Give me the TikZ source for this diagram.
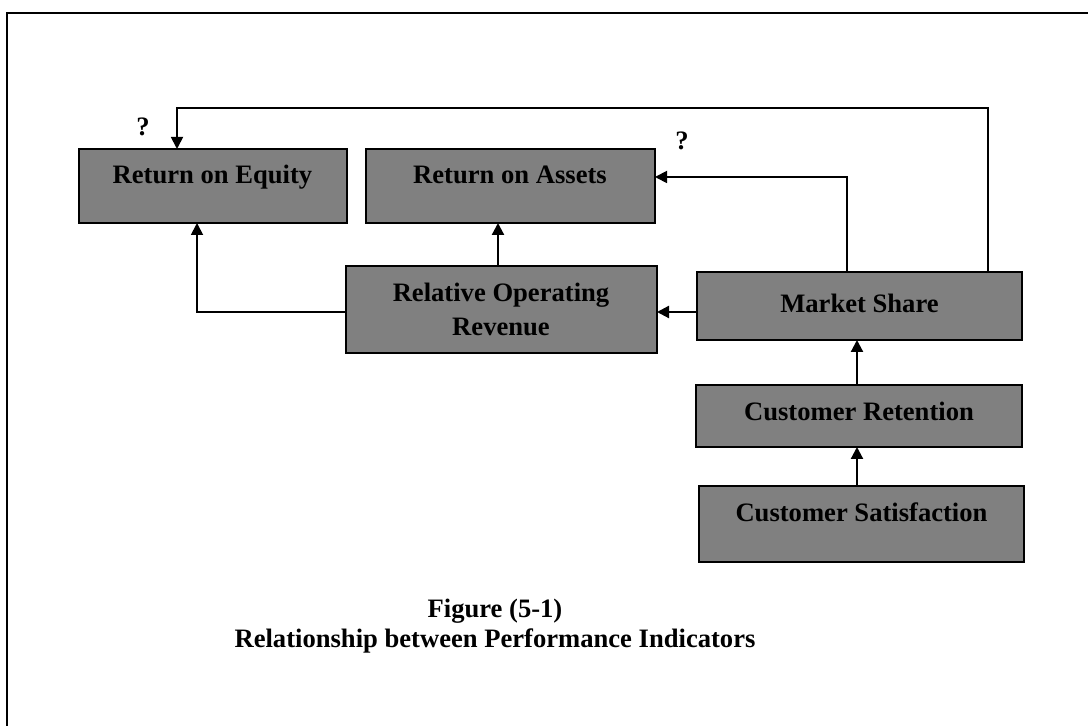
\documentclass[tikz,border=0pt]{standalone}
\usepackage{fontspec}
\setmainfont{Liberation Serif}
\usetikzlibrary{arrows.meta}
\definecolor{boxgray}{HTML}{808080}
\begin{document}
\begin{tikzpicture}[x=0.5pt,y=-0.5pt,
  box/.style={draw=black, fill=boxgray, line width=1pt, inner sep=0pt, outer sep=0pt},
  txt/.style={font=\bfseries\fontsize{13.3}{17}\selectfont, inner sep=0pt, anchor=base},
  conn/.style={line width=0.9pt},
  arr/.style={line width=1.1pt, -{Triangle[length=6pt,width=6pt]}},
  conarr/.style={line width=0.9pt, -{Triangle[length=6pt,width=6pt]}}]
\useasboundingbox (0,0) rectangle (1088,726);
% outer frame
\draw[line width=1.1pt] (7,760) -- (7,13) -- (1120,13);

% boxes
\node[box, minimum width=134pt, minimum height=37pt] (roe) at (213,186) {};
\node[box, minimum width=144.5pt, minimum height=37pt] (roa) at (510.5,186) {};
\node[box, minimum width=155.5pt, minimum height=43.5pt] (ror) at (501.5,309.5) {};
\node[box, minimum width=162.5pt, minimum height=34pt] (ms) at (859.5,306) {};
\node[box, minimum width=163pt, minimum height=31pt] (cr) at (859,416) {};
\node[box, minimum width=162.5pt, minimum height=38pt] (cs) at (861.5,524) {};

% box labels
\node[txt] (roet) at (212.5,184) {Return on Equity};
\node[txt] (roat) at (510,184) {Return on Assets};
\node[txt] (rort1) at (501,302) {Relative Operating};
\node[txt] (rort2) at (501,336) {Revenue};
\node[txt] (mst) at (859.5,313) {Market Share};
\node[txt] (crt) at (859,421) {Customer Retention};
\node[txt] (cst) at (861.5,522) {Customer Satisfaction};

% question marks
\node[txt] (q1) at (143,136) {?};
\node[txt] (q2) at (682,150) {?};

% routing points
\coordinate (t1) at (988,108);
\coordinate (d1) at (177,108);
\coordinate (t2) at (847,177);
\coordinate (u1) at (498,240);
\coordinate (u2) at (197,312);
\coordinate (u3) at (857,0);

% connectors
\draw[conarr] (t1 |- ms.north) -- (t1) -- (d1) -- (d1 |- roe.north);
\draw[conarr] (t2 |- ms.north) -- (t2) -- (t2 -| roa.east);
\draw[arr] (u1 |- ror.north) -- (u1 |- roa.south);
\draw[conarr] (u2 -| ror.west) -- (u2) -- (u2 |- roe.south);
\draw[arr] (u2 -| ms.west) -- (u2 -| ror.east);
\draw[arr] (u3 |- cr.north) -- (u3 |- ms.south);
\draw[arr] (u3 |- cs.north) -- (u3 |- cr.south);

% caption
\node[txt] (cap1) at (495,618) {Figure (5-1)};
\node[txt] (cap2) at (495,648) {Relationship between Performance Indicators};
\end{tikzpicture}
\end{document}
